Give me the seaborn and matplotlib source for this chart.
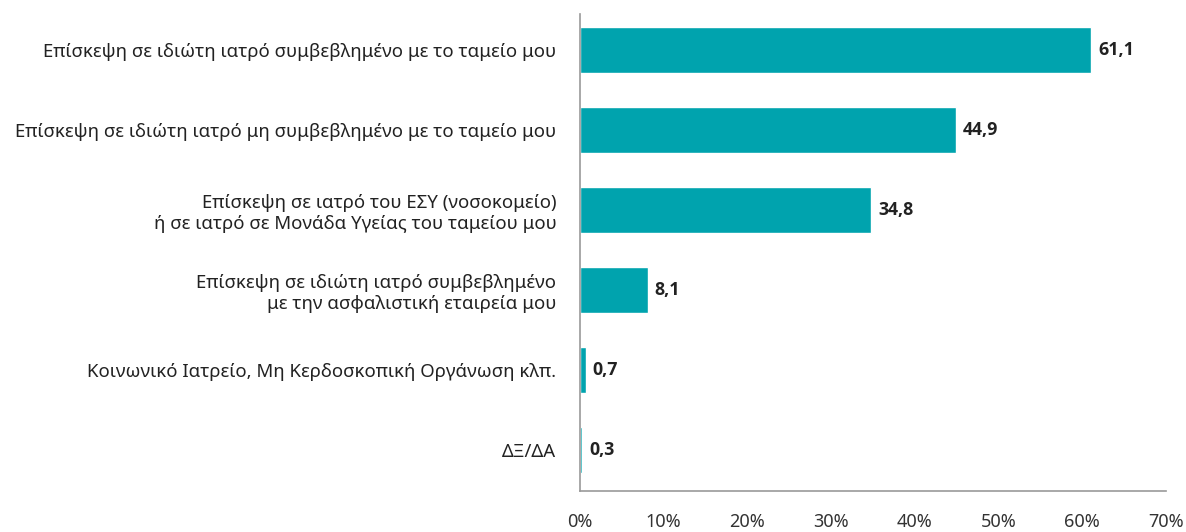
import matplotlib
matplotlib.use("Agg")
import matplotlib.pyplot as plt
import seaborn as sns
import pandas as pd

categories = [
    "Επίσκεψη σε ιδιώτη ιατρό συμβεβλημένο με το ταμείο μου",
    "Επίσκεψη σε ιδιώτη ιατρό μη συμβεβλημένο με το ταμείο μου",
    "Επίσκεψη σε ιατρό του ΕΣΥ (νοσοκομείο)\nή σε ιατρό σε Μονάδα Υγείας του ταμείου μου",
    "Επίσκεψη σε ιδιώτη ιατρό συμβεβλημένο\nμε την ασφαλιστική εταιρεία μου",
    "Κοινωνικό Ιατρείο, Μη Κερδοσκοπική Οργάνωση κλπ.",
    "ΔΞ/ΔΑ",
]
values = [61.1, 44.9, 34.8, 8.1, 0.7, 0.3]
xticks = [0, 10, 20, 30, 40, 50, 60, 70]

df = pd.DataFrame({"category": categories, "value": values})

sns.set_style("white")
plt.rcParams["font.family"] = ["Noto Sans", "DejaVu Sans"]

fig = plt.figure(figsize=(11.86, 5.32), dpi=100)
ax = fig.add_axes([0.489, 0.077, 0.494, 0.897])

sns.barplot(data=df, x="value", y="category", color="#00A3AE",
            width=0.58, saturation=1, ax=ax)

for i, v in enumerate(values):
    ax.text(v + 0.8, i, f"{v:.1f}".replace(".", ","), va="center", ha="left",
            fontsize=12.8, fontweight="bold", color="#222222",
            family=["Open Sans", "Lato", "DejaVu Sans"])

ax.set_xlim(0, 70)
ax.set_ylim(5.51, -0.45)
ax.set_xticks(xticks)
ax.set_xticklabels([f"{t}%" for t in xticks], fontsize=13, color="#333333")
ax.set_xlabel("")
ax.set_ylabel("")
ax.tick_params(axis="x", direction="in", length=5, width=1, color="#999999", pad=16)
ax.tick_params(axis="y", length=0, pad=17, labelsize=13.4, labelcolor="#222222")
for lbl in ax.get_yticklabels():
    lbl.set_horizontalalignment("right")
    lbl.set_multialignment("right")

for side in ["top", "right"]:
    ax.spines[side].set_visible(False)
for side in ["left", "bottom"]:
    ax.spines[side].set_color("#999999")
    ax.spines[side].set_linewidth(1.2)

fig.savefig("out.png", dpi=100)
